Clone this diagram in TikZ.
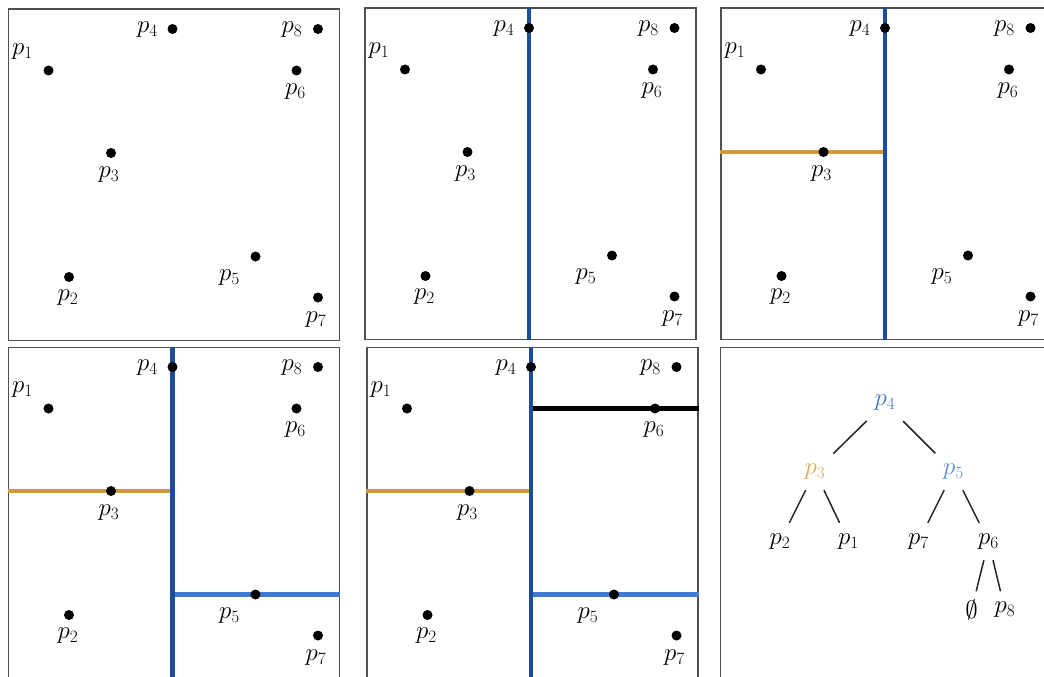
\documentclass[tikz,border=0pt]{standalone}
\definecolor{kdblue}{HTML}{1E4C9C}
\definecolor{kdgold}{HTML}{D49A35}
\definecolor{kdlblue}{HTML}{3E7AD0}
\definecolor{kdframe}{HTML}{505050}
\definecolor{tblue}{HTML}{4472C4}
\definecolor{tlblue}{HTML}{5B8FE0}
\definecolor{tgold}{HTML}{E3A94A}
\newcommand\kdcoords[1]{%
  \node[panelframe] (#1f) at (0,0) {};
  \coordinate (#1p1) at (41,62);
  \coordinate (#1p2) at (61.5,268.5);
  \coordinate (#1p3) at (103.5,144.5);
  \coordinate (#1p4) at (165,20.5);
  \coordinate (#1p5) at (248,248);
  \coordinate (#1p6) at (289,62);
  \coordinate (#1p7) at (310.5,289);
  \coordinate (#1p8) at (310.5,20.5);
}
\newcommand\kddots[1]{%
  \foreach \i/\dx/\dy in {1/-26/-19, 2/-1/21, 3/-2/22, 4/-25/1, 5/-26/21, 6/-1/21, 7/-2/22, 8/-26/1} {
    \node[ptdot] (#1d\i) at (#1p\i) {};
    \node[ptlbl] (#1l\i) at ([shift={(\dx,\dy)}]#1p\i) {$p_{\i}$};
  }%
}
\begin{document}
\begin{tikzpicture}[x=1pt,y=-1pt,
  panelframe/.style={draw=kdframe,line width=1.6pt,inner sep=0pt,minimum width=331pt,minimum height=331pt,anchor=north west},
  ptdot/.style={circle,fill=black,inner sep=0pt,minimum size=10pt},
  ptlbl/.style={inner sep=0pt,font=\fontsize{25}{30}\selectfont},
  vsplit/.style={draw=kdblue,line width=4.5pt},
  gsplit/.style={draw=kdgold,line width=4.5pt},
  lsplit/.style={draw=kdlblue,line width=4.5pt},
  bsplit/.style={draw=black,line width=4.5pt},
  tnode/.style={inner sep=0pt,minimum width=36pt,minimum height=37pt,font=\fontsize{25}{30}\selectfont},
  tedge/.style={draw=black!85,line width=1.5pt}
]
\clip (0,0) rectangle (1044,677);
\fill[white] (0,0) rectangle (1044,677);

% panel 1
\begin{scope}[shift={(7.5,8.5)}]
  \kdcoords{a}
  \kddots{a}
\end{scope}

% panel 2
\begin{scope}[shift={(364,7.5)}]
  \kdcoords{b}
  \draw[vsplit] (bp4 |- bf.north) -- (bp4 |- bf.south);
  \kddots{b}
\end{scope}

% panel 3
\begin{scope}[shift={(720,7.5)}]
  \kdcoords{c}
  \draw[gsplit] (cf.west |- cp3) -- (cp4 |- cp3);
  \draw[vsplit] (cp4 |- cf.north) -- (cp4 |- cf.south);
  \kddots{c}
\end{scope}

% panel 4
\begin{scope}[shift={(7.5,346.5)}]
  \kdcoords{d}
  \draw[gsplit] (df.west |- dp3) -- (dp4 |- dp3);
  \draw[lsplit] (dp4 |- dp5) -- (df.east |- dp5);
  \draw[vsplit] (dp4 |- df.north) -- (dp4 |- df.south);
  \kddots{d}
\end{scope}

% panel 5
\begin{scope}[shift={(366,346.5)}]
  \kdcoords{e}
  \draw[gsplit] (ef.west |- ep3) -- (ep4 |- ep3);
  \draw[lsplit] (ep4 |- ep5) -- (ef.east |- ep5);
  \draw[bsplit] (ep4 |- ep6) -- (ef.east |- ep6);
  \draw[vsplit] (ep4 |- ef.north) -- (ep4 |- ef.south);
  \kddots{e}
\end{scope}

% panel 6: tree
\begin{scope}[shift={(719.5,346.5)}]
  \node[panelframe] (ff) at (0,0) {};
\end{scope}
\node[tnode,text=tblue] (t4) at (885,403) {$p_4$};
\node[tnode,text=tgold] (t3) at (815,471.5) {$p_3$};
\node[tnode,text=tlblue] (t5) at (953.5,471.5) {$p_5$};
\node[tnode] (t2) at (780,541.5) {$p_2$};
\node[tnode] (t1) at (848.5,541.5) {$p_1$};
\node[tnode] (t7) at (918.5,541.5) {$p_7$};
\node[tnode] (t6) at (988.5,541.5) {$p_6$};
\node[tnode] (te) at (971.5,610) {$\emptyset$};
\node[tnode] (t8) at (1005,610) {$p_8$};
\draw[tedge] (t4) -- (t3);
\draw[tedge] (t4) -- (t5);
\draw[tedge] (t3) -- (t2);
\draw[tedge] (t3) -- (t1);
\draw[tedge] (t5) -- (t7);
\draw[tedge] (t5) -- (t6);
\draw[tedge] (t6) -- (te);
\draw[tedge] (t6) -- (t8);
\end{tikzpicture}
\end{document}
